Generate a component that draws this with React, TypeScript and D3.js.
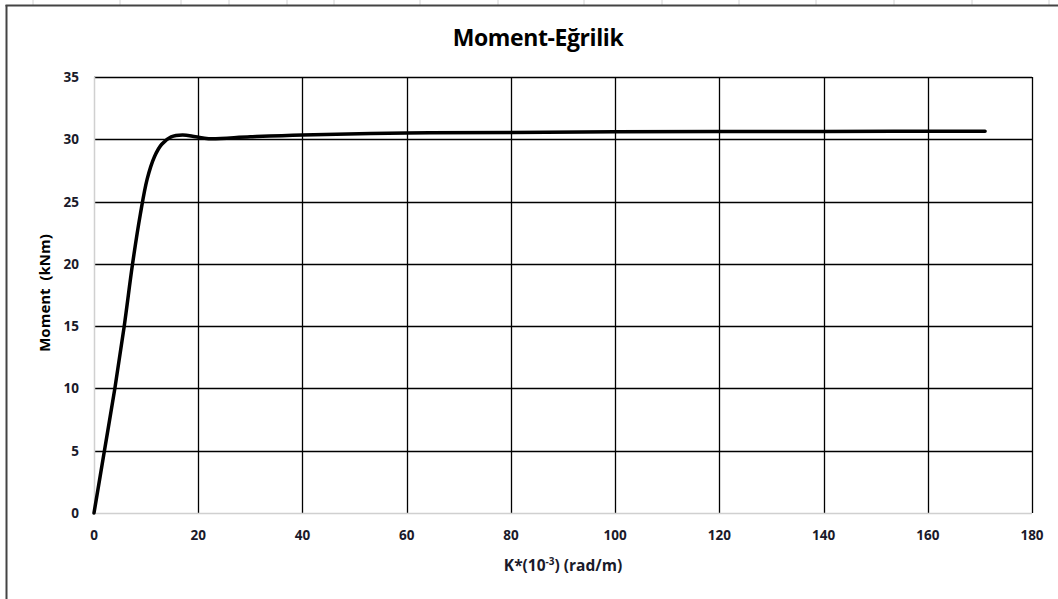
import React from "react";
import * as d3 from "d3";

const curvature = [0, 2, 4, 5.8, 7.4, 8.9, 10.2, 11.6, 13, 14.8, 17, 19.5, 22, 30, 40, 60, 80, 100, 120, 140, 171];
const moment = [0, 5, 10, 15, 20, 24, 26.8, 28.6, 29.6, 30.2, 30.35, 30.2, 30.05, 30.2, 30.35, 30.5, 30.55, 30.6, 30.62, 30.63, 30.65];
const xTicks = [0, 20, 40, 60, 80, 100, 120, 140, 160, 180];
const yTicks = [0, 5, 10, 15, 20, 25, 30, 35];
const sheetCols = [33, 120, 181, 229, 287, 334, 420, 498, 584, 662, 739, 816, 894, 972, 1049];

const W = 1058, H = 599;
const FONT = "'Open Sans', 'Liberation Sans', sans-serif";

export default function App() {
  const x = d3.scaleLinear().domain([0, 180]).range([94, 1032]);
  const y = d3.scaleLinear().domain([0, 35]).range([513, 77]);
  const data = curvature.map((c, i) => [c, moment[i]] as [number, number]);
  const line = d3.line<[number, number]>()
    .x(d => x(d[0]))
    .y(d => y(d[1]))
    .curve(d3.curveCatmullRom.alpha(0.5));

  return (
    <svg width={W} height={H} style={{ position: "absolute", left: 0, top: 0, background: "#fff" }}>
      {sheetCols.map((c, i) => (
        <line key={i} x1={c} x2={c} y1={0} y2={5} stroke="#d4d4d4" strokeWidth={1} />
      ))}
      <line x1={5.5} x2={W} y1={5.5} y2={5.5} stroke="#444" strokeWidth={2} />
      <line x1={6.5} x2={6.5} y1={5} y2={H} stroke="#444" strokeWidth={2} />

      <text x={538} y={46} textAnchor="middle" fontFamily={FONT} fontWeight="bold" fontSize={23} letterSpacing={-0.4} fill="#000">
        Moment-Eğrilik
      </text>

      {yTicks.filter(t => t > 0).map(t => (
        <line key={"gy" + t} x1={x(0)} x2={x(180)} y1={Math.round(y(t)) + 0.5} y2={Math.round(y(t)) + 0.5} stroke="#000" strokeWidth={1.3} />
      ))}
      {xTicks.filter(t => t > 0).map(t => (
        <line key={"gx" + t} x1={Math.round(x(t)) + 0.5} x2={Math.round(x(t)) + 0.5} y1={y(35)} y2={y(0)} stroke="#000" strokeWidth={1.3} />
      ))}
      <line x1={x(0) + 0.5} x2={x(0) + 0.5} y1={y(35)} y2={y(0)} stroke="#d0d0d0" strokeWidth={1.5} />
      <line x1={x(0)} x2={x(180)} y1={Math.round(y(0)) + 0.5} y2={Math.round(y(0)) + 0.5} stroke="#d0d0d0" strokeWidth={1.5} />

      {yTicks.map(t => (
        <text key={"ty" + t} x={79} y={y(t) + 5} textAnchor="end" fontFamily={FONT} fontWeight="bold" fontSize={13.5} fill="#1a1a2a">
          {t}
        </text>
      ))}
      {xTicks.map(t => (
        <text key={"tx" + t} x={x(t)} y={540} textAnchor="middle" fontFamily={FONT} fontWeight="bold" fontSize={13.5} fill="#1a1a2a">
          {t}
        </text>
      ))}

      <text transform={`translate(50,${293}) rotate(-90)`} textAnchor="middle" fontFamily={FONT} fontWeight="bold" fontSize={15} fill="#000" style={{ whiteSpace: "pre" }}>
        {"Moment  (kNm)"}
      </text>
      <text x={563} y={571} textAnchor="middle" fontFamily={FONT} fontWeight="bold" fontSize={15.5} fill="#1a1a2a">
        K*(10<tspan dy={-6} fontSize={10}>-3</tspan><tspan dy={6}>) (rad/m)</tspan>
      </text>

      <path d={line(data) || ""} fill="none" stroke="#000" strokeWidth={3.5} strokeLinecap="round" strokeLinejoin="round" />
    </svg>
  );
}
